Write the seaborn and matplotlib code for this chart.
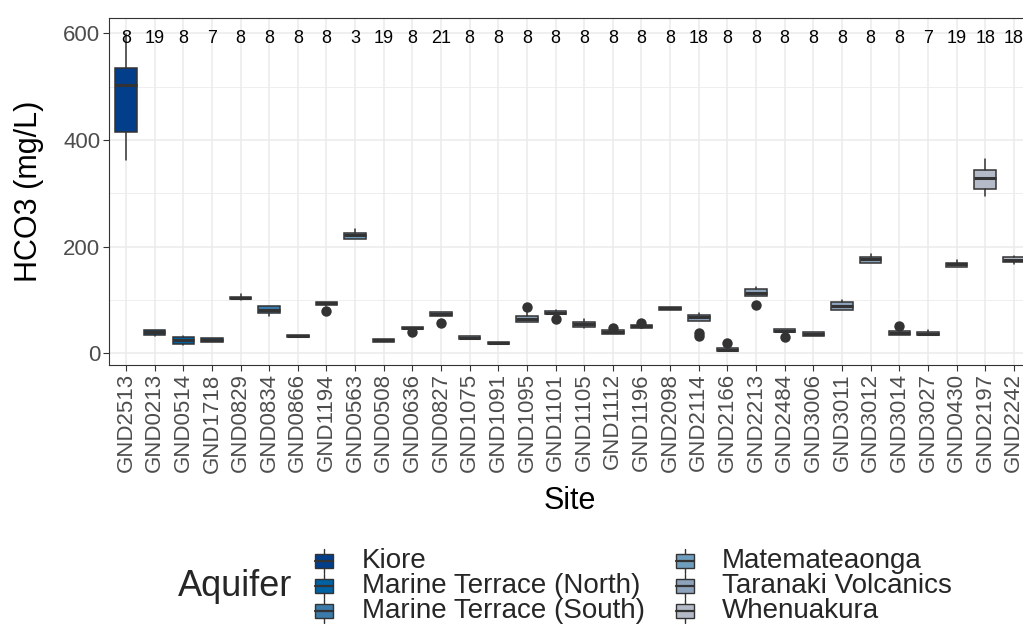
import matplotlib
matplotlib.use("Agg")
import matplotlib.pyplot as plt
import seaborn as sns
from matplotlib.patches import Rectangle
from matplotlib.lines import Line2D

# ---- data ----
sites = ["GND2513", "GND0213", "GND0514", "GND1718", "GND0829", "GND0834",
         "GND0866", "GND1194", "GND0563", "GND0508", "GND0636", "GND0827",
         "GND1075", "GND1091", "GND1095", "GND1101", "GND1105", "GND1112",
         "GND1196", "GND2098", "GND2114", "GND2166", "GND2213", "GND2484",
         "GND3006", "GND3011", "GND3012", "GND3014", "GND3027", "GND0430",
         "GND2197", "GND2242"]
aquifer = (["Kiore"] + ["Marine Terrace (North)"] * 3
           + ["Marine Terrace (South)"] * 4 + ["Matemateaonga"]
           + ["Taranaki Volcanics"] * 20 + ["Whenuakura"] * 3)
counts = [8, 19, 8, 7, 8, 8, 8, 8, 3, 19, 8, 21, 8, 8, 8, 8,
          8, 8, 8, 8, 18, 8, 8, 8, 8, 8, 8, 8, 7, 19, 18, 18]

# five-number summaries (whisker low, Q1, median, Q3, whisker high)
whis_lo = [362, 33, 15, 22, 100, 70, 31, 88, 215, 22, 45, 69, 26, 18, 58, 73,
           48, 37, 48, 81, 61, 4, 108, 39, 33, 82, 169, 35, 35, 162, 295, 168]
q1 = [415, 35, 18, 22, 101, 75, 31, 91, 215, 22, 45, 69, 26, 18, 58, 73,
      50, 37, 48, 81, 61, 4, 108, 39, 33, 82, 169, 35, 35, 162, 308, 171]
med = [503, 39, 24, 25, 103, 82, 33, 94, 222, 24, 48, 73, 29, 20, 65, 76,
       55, 40, 51, 84, 68, 6, 113, 42, 36, 89, 176, 38, 37, 167, 328, 175]
q3 = [535, 43, 30, 28, 106, 88, 35, 97, 226, 26, 50, 77, 32, 22, 70, 79,
      59, 43, 53, 86, 72, 9, 120, 45, 39, 96, 180, 42, 39, 170, 343, 180]
whis_hi = [598, 44, 32, 28, 111, 89, 35, 97, 233, 27, 50, 78, 32, 22, 78, 81,
           65, 43, 53, 86, 76, 9, 125, 45, 39, 100, 187, 42, 43, 175, 365, 182]

out_site = ["GND1194", "GND0636", "GND0827", "GND1095", "GND1101", "GND1112",
            "GND1196", "GND2114", "GND2114", "GND2166", "GND2213", "GND2484",
            "GND3014"]
out_val = [80, 40, 56, 87, 65, 47, 56, 38, 32, 20, 91, 31, 52]

aquifer_names = ["Kiore", "Marine Terrace (North)", "Marine Terrace (South)",
                 "Matemateaonga", "Taranaki Volcanics", "Whenuakura"]
aquifer_colors = ["#023e8a", "#0062a3", "#3b7aa9", "#6e9dbd", "#8ca3bb", "#b5bac9"]
col_map = dict(zip(aquifer_names, aquifer_colors))

# ---- figure ----
sns.set_theme(style="whitegrid")
plt.rcParams['font.family'] = ['Liberation Sans', 'DejaVu Sans']

W, H = 1023, 624
fig = plt.figure(figsize=(W / 100, H / 100), dpi=100)
ax = fig.add_axes([108.8 / W, (H - 365) / H, (1031 - 108.8) / W, (365 - 18.3) / H])

edge = "#333333"
stats = []
for i in range(len(sites)):
    stats.append(dict(whislo=whis_lo[i], q1=q1[i], med=med[i], q3=q3[i],
                      whishi=whis_hi[i], fliers=[]))

# outliers through seaborn (categorical positions follow the site order)
sns.stripplot(x=out_site, y=out_val, order=sites, jitter=False, color=edge,
              size=7.5, linewidth=0, ax=ax, zorder=4)

bp = ax.bxp(stats, positions=range(len(sites)), widths=0.75, patch_artist=True,
            showcaps=False, showfliers=False, manage_ticks=False,
            boxprops=dict(edgecolor=edge, linewidth=1.1),
            whiskerprops=dict(color=edge, linewidth=1.1),
            medianprops=dict(color=edge, linewidth=2.2, solid_capstyle='butt'))
for patch, aq in zip(bp['boxes'], aquifer):
    patch.set_facecolor(col_map[aq])
    patch.set_zorder(3)
for ln in bp['whiskers'] + bp['medians']:
    ln.set_zorder(3)

for i, n in enumerate(counts):
    ax.text(i, 590, str(n), ha='center', va='center', fontsize=13, color='black')

ax.set_xlim(-0.6, len(sites) - 0.4)
ax.set_ylim(-22, 628)
ax.set_xticks(range(len(sites)))
ax.set_xticklabels(sites, rotation=90, fontsize=16, color='#4d4d4d')
ax.set_yticks([0, 200, 400, 600])
ax.set_yticks([100, 300, 500], minor=True)
ax.tick_params(axis='y', labelsize=16, labelcolor='#4d4d4d')
ax.tick_params(axis='both', which='major', bottom=True, left=True, length=4,
               width=0.8, color=edge, pad=2)
ax.tick_params(axis='y', which='minor', left=False)
ax.grid(which='major', axis='both', color='#ebebeb', linewidth=1.1)
ax.grid(which='minor', axis='y', color='#ebebeb', linewidth=0.6)
ax.set_axisbelow(True)
for sp in ax.spines.values():
    sp.set_visible(True)
    sp.set_color(edge)
    sp.set_linewidth(0.8)

ax.set_xlabel("Site", fontsize=22, labelpad=10, color='black')
ax.set_ylabel("HCO3 (mg/L)", fontsize=22, labelpad=14, color='black')

# ---- legend (boxplot keys, title on the left) ----
lax = fig.add_axes([0, 0, 1, 1])
lax.set_xlim(0, W)
lax.set_ylim(H, 0)
lax.axis('off')
lax.text(178, 586, "Aquifer", fontsize=26, va='center', ha='left')
key_x = [315, 676]
lab_x = [362, 722]
row_y = [561, 586, 611]
for i, name in enumerate(aquifer_names):
    c, r = i // 3, i % 3
    kx, ky = key_x[c], row_y[r]
    lax.add_line(Line2D([kx + 9, kx + 9], [ky - 12, ky + 12], color=edge, lw=1))
    lax.add_patch(Rectangle((kx, ky - 7), 18, 14, facecolor=col_map[name],
                            edgecolor=edge, lw=1, zorder=3))
    lax.add_line(Line2D([kx, kx + 18], [ky, ky], color=edge, lw=1.6, zorder=4))
    lax.text(lab_x[c], ky, name, fontsize=20, va='center', ha='left')

fig.savefig("out.png", dpi=100)
